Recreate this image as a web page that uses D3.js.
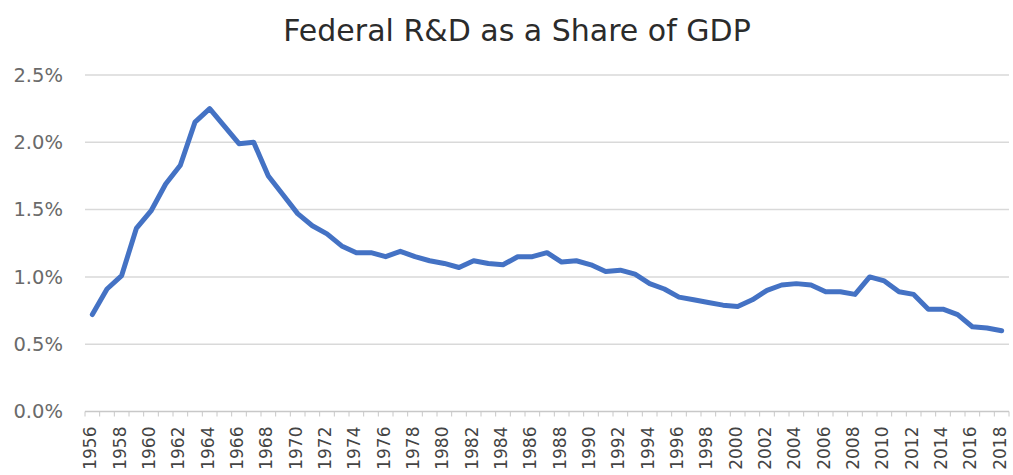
<!DOCTYPE html>
<html>
<head>
<meta charset="utf-8">
<script src="https://cdn.jsdelivr.net/npm/d3@7"></script>
<style>
  html, body { margin: 0; padding: 0; background: #fff; }
  svg { display: block; }
</style>
</head>
<body>
<svg id="chart" width="1013" height="475"></svg>
<script>
const title = "Federal R&D as a Share of GDP";
const years = d3.range(1956, 2019);
const shares = [
  0.72, 0.91, 1.01, 1.36, 1.49, 1.69, 1.83, 2.15, 2.25, 2.12,
  1.99, 2.00, 1.75, 1.61, 1.47, 1.38, 1.32, 1.23, 1.18, 1.18,
  1.15, 1.19, 1.15, 1.12, 1.10, 1.07, 1.12, 1.10, 1.09, 1.15,
  1.15, 1.18, 1.11, 1.12, 1.09, 1.04, 1.05, 1.02, 0.95, 0.91,
  0.85, 0.83, 0.81, 0.79, 0.78, 0.83, 0.90, 0.94, 0.95, 0.94,
  0.89, 0.89, 0.87, 1.00, 0.97, 0.89, 0.87, 0.76, 0.76, 0.72,
  0.63, 0.62, 0.60
];
const yTicks = [0, 0.5, 1.0, 1.5, 2.0, 2.5];
const xLabelYears = years.filter(y => (y - 1956) % 2 === 0);

const svg = d3.select("#chart");
const mLeft = 85, mRight = 1009, mTop = 75, mBottom = 411.5;

const x = d3.scaleBand().domain(years).range([mLeft, mRight]).padding(0);
const y = d3.scaleLinear().domain([0, 2.5]).range([mBottom, mTop]);

// title
svg.append("text")
  .attr("x", 517).attr("y", 41)
  .attr("text-anchor", "middle")
  .attr("font-family", "DejaVu Sans, sans-serif")
  .attr("font-size", 30)
  .attr("fill", "#2b2b2b")
  .text(title);

// gridlines
svg.append("g").selectAll("line")
  .data(yTicks.filter(d => d > 0))
  .join("line")
  .attr("x1", mLeft).attr("x2", mRight)
  .attr("y1", d => y(d)).attr("y2", d => y(d))
  .attr("stroke", "#d9d9d9").attr("stroke-width", 1.5);

// y axis labels
const yAxis = d3.axisLeft(y).tickValues(yTicks).tickSize(0).tickPadding(0)
  .tickFormat(d => d.toFixed(1) + "%");
const gy = svg.append("g").attr("transform", `translate(${mLeft - 22},0)`).call(yAxis);
gy.select(".domain").remove();
gy.selectAll("text")
  .attr("font-family", "DejaVu Sans, sans-serif")
  .attr("font-size", 19.5)
  .attr("fill", "#6a6a6a");

// x axis line and ticks between categories
svg.append("line")
  .attr("x1", mLeft).attr("x2", mRight)
  .attr("y1", mBottom).attr("y2", mBottom)
  .attr("stroke", "#c8c8c8").attr("stroke-width", 1.5);
const boundaries = years.map(yr => x(yr)).concat([x(years[years.length - 1]) + x.bandwidth()]);
svg.append("g").selectAll("line")
  .data(boundaries)
  .join("line")
  .attr("x1", d => d).attr("x2", d => d)
  .attr("y1", mBottom).attr("y2", mBottom + 5)
  .attr("stroke", "#c8c8c8").attr("stroke-width", 1);

// x labels
svg.append("g").selectAll("text")
  .data(xLabelYears)
  .join("text")
  .attr("transform", d => `translate(${x(d) + x.bandwidth() / 2 - 2},${mBottom + 15}) rotate(-90)`)
  .attr("text-anchor", "end")
  .attr("dy", "0.36em")
  .attr("font-family", "DejaVu Sans, sans-serif")
  .attr("font-size", 17)
  .attr("fill", "#444")
  .text(d => d);

// line
const line = d3.line()
  .x((d, i) => x(years[i]) + x.bandwidth() / 2)
  .y(d => y(d));
svg.append("path")
  .datum(shares)
  .attr("d", line)
  .attr("fill", "none")
  .attr("stroke", "#4472C4")
  .attr("stroke-width", 5)
  .attr("stroke-linejoin", "round")
  .attr("stroke-linecap", "round");
</script>
</body>
</html>
